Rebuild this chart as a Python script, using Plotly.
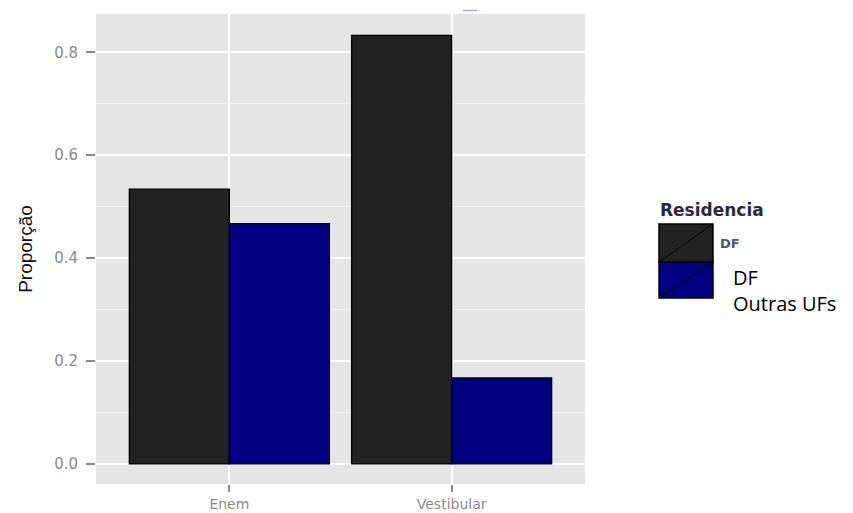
import plotly.graph_objects as go

categories = ["Enem", "Vestibular"]
series_names = ["DF", "Outras UFs"]
df_values = [0.534, 0.833]
outras_values = [0.467, 0.167]
colors = ["#222222", "#000080"]
y_tick_vals = [0.0, 0.2, 0.4, 0.6, 0.8]
y_tick_text = ["0.0", "0.2", "0.4", "0.6", "0.8"]

# the page body adds an 8px offset; positions below are in window pixels
OFF = 8
W, H = 853 - OFF, 513 - OFF
ML, MT = 96 - OFF, 14 - OFF
PW, PH = 489, 470
MR, MB = W - ML - PW, H - MT - PH

def px(x):
    return (x - OFF - ML) / PW

def py(y):
    return (MT + PH - (y - OFF)) / PH

fig = go.Figure()
for name, vals, col in zip(series_names, [df_values, outras_values], colors):
    fig.add_trace(go.Bar(
        x=categories, y=vals, name=name,
        marker=dict(color=col, line=dict(color="#000000", width=1.3)),
        showlegend=False,
    ))

fig.update_layout(
    width=W, height=H,
    margin=dict(l=ML, r=MR, t=MT, b=MB, autoexpand=False),
    paper_bgcolor="#ffffff",
    plot_bgcolor="#e5e5e5",
    barmode="group", bargap=0.1, bargroupgap=0,
    xaxis=dict(
        type="category", range=[-0.6, 1.6],
        showgrid=True, gridcolor="#ffffff", gridwidth=1.5,
        ticks="outside", ticklen=7, tickwidth=1.5, tickcolor="#8a8a8a",
        tickfont=dict(family="DejaVu Sans", size=14, color="#8a8a8a"),
        ticklabelstandoff=0,
        zeroline=False, showline=False,
    ),
    yaxis=dict(
        range=[-0.039, 0.8745],
        tickvals=y_tick_vals, ticktext=y_tick_text,
        showgrid=True, gridcolor="#ffffff", gridwidth=1.5,
        minor=dict(tick0=0.1, dtick=0.2, showgrid=True,
                   gridcolor="#f2f2f2", gridwidth=1),
        ticks="outside", ticklen=9, tickwidth=1.5, tickcolor="#8a8a8a",
        tickfont=dict(family="DejaVu Sans", size=15, color="#8a8a8a"),
        ticklabelstandoff=5,
        zeroline=False, showline=False,
        title=dict(text="Proporção",
                   font=dict(family="Liberation Sans Narrow, Liberation Sans",
                             size=19, color="#111111"),
                   standoff=16),
    ),
)

# Legend drawn by hand (title, keys with diagonal strokes, labels)
shapes = []
key_x0, key_x1 = 659, 713
key_rows = [(224, 262), (262, 298)]
for (y0, y1), col in zip(key_rows, colors):
    shapes.append(dict(type="rect", xref="paper", yref="paper",
                       x0=px(key_x0), x1=px(key_x1), y0=py(y1), y1=py(y0),
                       fillcolor=col, line=dict(color="#000000", width=1.5)))
    shapes.append(dict(type="line", xref="paper", yref="paper",
                       x0=px(key_x0), x1=px(key_x1), y0=py(y1), y1=py(y0),
                       line=dict(color="#000000", width=1)))
# small stray line at the top of the panel
shapes.append(dict(type="line", xref="paper", yref="paper",
                   x0=px(463), x1=px(477), y0=py(10.5), y1=py(10.5),
                   line=dict(color="#9bb5d8", width=1.5)))
fig.update_layout(shapes=shapes)

annotations = [
    dict(text="<b>Residencia</b>", x=px(658), y=py(210), xref="paper", yref="paper",
         xanchor="left", yanchor="middle", showarrow=False,
         font=dict(family="DejaVu Sans", size=17, color="#2a2a3a")),
    dict(text="<b>DF</b>", x=px(718), y=py(243), xref="paper", yref="paper",
         xanchor="left", yanchor="middle", showarrow=False,
         font=dict(family="DejaVu Sans", size=13, color="#4a5878")),
    dict(text=series_names[0], x=px(731), y=py(277), xref="paper", yref="paper",
         xanchor="left", yanchor="middle", showarrow=False,
         font=dict(family="Open Sans", size=20, color="#000000")),
    dict(text=series_names[1], x=px(731), y=py(303), xref="paper", yref="paper",
         xanchor="left", yanchor="middle", showarrow=False,
         font=dict(family="Open Sans", size=20, color="#000000")),
]
fig.update_layout(annotations=annotations)

fig.write_html("out.html")
